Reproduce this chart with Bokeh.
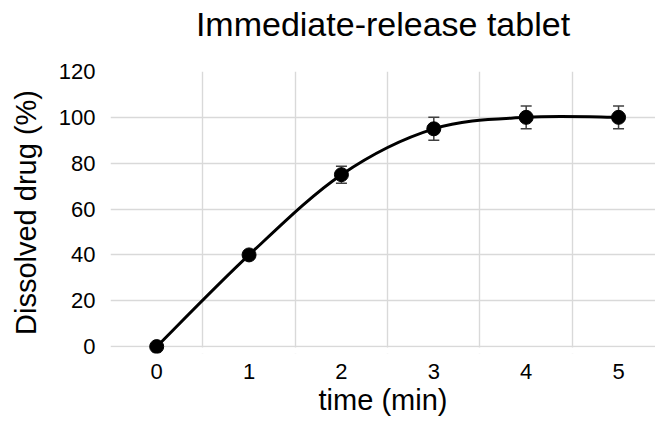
import numpy as np
from bokeh.plotting import figure
from bokeh.models import ColumnDataSource, Whisker, FixedTicker, Range1d, BoxAnnotation, TeeHead, Title
from bokeh.embed import file_html
from bokeh.resources import INLINE

# ---- data ----
time_min = [0, 1, 2, 3, 4, 5]
dissolved = [0, 40, 75, 95, 100, 100]
error = [0, 0, 3.7, 5, 5, 5]
y_ticks = [0, 20, 40, 60, 80, 100, 120]
title_text = "Immediate-release tablet"
x_label = "time (min)"
y_label = "Dissolved drug (%)"

FONT = "Liberation Sans"

# smoothed (Catmull-Rom style) bezier segments through the data points
x = np.array(time_min, dtype=float)
y = np.array(dissolved, dtype=float)
n = len(x)
px = np.concatenate([[x[0]], x, [x[-1]]])
py = np.concatenate([[y[0]], y, [y[-1]]])
i = np.arange(n - 1)
seg = ColumnDataSource(dict(
    x0=x[:-1], y0=y[:-1], x1=x[1:], y1=y[1:],
    cx0=x[:-1] + (px[i + 2] - px[i]) / 6.0,
    cy0=y[:-1] + (py[i + 2] - py[i]) / 6.0,
    cx1=x[1:] - (px[i + 3] - px[i + 1]) / 6.0,
    cy1=y[1:] - (py[i + 3] - py[i + 1]) / 6.0,
))

src = ColumnDataSource(dict(
    x=time_min, y=dissolved,
    upper=[v + e for v, e in zip(dissolved, error)],
    lower=[v - e for v, e in zip(dissolved, error)],
))

p = figure(width=655, height=418,
           x_range=Range1d(-0.5, 5.4), y_range=Range1d(-3.0, 120),
           output_backend="svg", toolbar_location=None,
           min_border_left=110, min_border_right=0,
           min_border_top=71, min_border_bottom=50,
           title=title_text)
p.outline_line_color = None
p.background_fill_color = "white"
p.border_fill_color = "white"

p.title.text_font = FONT
p.title.text_font_size = "34px"
p.title.text_font_style = "normal"
p.title.text_color = "#000000"
p.title.align = "center"
p.title.vertical_align = "top"
p.title.standoff = 0

# blank spacer panel between the title and the plot area
p.add_layout(Title(text=" ", text_font_size="10px", standoff=14), "above")

# axes
p.xaxis.ticker = FixedTicker(ticks=time_min)
p.yaxis.ticker = FixedTicker(ticks=y_ticks)
for ax in (p.xaxis, p.yaxis):
    ax.axis_line_color = None
    ax.major_tick_line_color = None
    ax.minor_tick_line_color = None
    ax.major_label_text_font = FONT
    ax.major_label_text_font_size = "22px"
    ax.major_label_text_color = "#000000"
    ax.axis_label_text_font = FONT
    ax.axis_label_text_font_size = "29px"
    ax.axis_label_text_font_style = "normal"
    ax.axis_label_text_color = "#000000"
p.xaxis.axis_label = x_label
p.yaxis.axis_label = y_label
p.xaxis.major_label_standoff = 4
p.yaxis.major_label_standoff = 9
p.xaxis.axis_label_standoff = 2
p.yaxis.axis_label_standoff = 14

# grid: category-style vertical lines between categories
p.xgrid.ticker = FixedTicker(ticks=[t - 0.5 for t in time_min])
p.ygrid.ticker = FixedTicker(ticks=y_ticks)
for g in (p.xgrid, p.ygrid):
    g.grid_line_color = "#d9d9d9"
    g.grid_line_width = 1.4

# mask grid below zero line
p.add_layout(BoxAnnotation(top=-0.35, fill_color="white", fill_alpha=1.0,
                           line_color=None, level="underlay"))

# error bars
p.add_layout(Whisker(source=src, base="x", upper="upper", lower="lower",
                     line_color="#404040", line_width=1.5, level="underlay",
                     upper_head=TeeHead(size=11, line_color="#404040", line_width=1.5),
                     lower_head=TeeHead(size=11, line_color="#404040", line_width=1.5)))

# smoothed line and markers
p.bezier(x0="x0", y0="y0", x1="x1", y1="y1", cx0="cx0", cy0="cy0",
         cx1="cx1", cy1="cy1", source=seg, line_color="black", line_width=3)
p.scatter(x="x", y="y", source=src, size=14, fill_color="black", line_color="black")

open("out.html", "w").write(file_html(p, INLINE))
